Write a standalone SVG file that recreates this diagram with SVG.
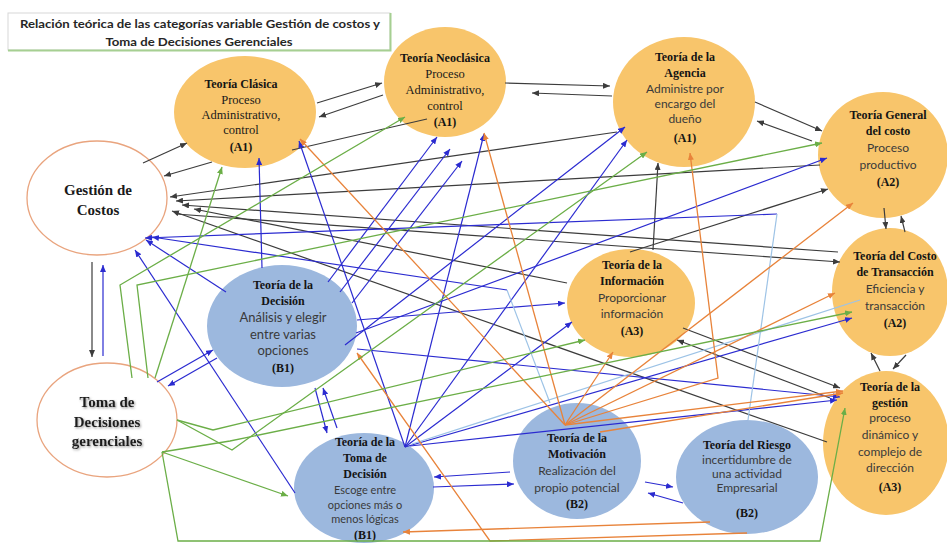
<svg xmlns="http://www.w3.org/2000/svg" width="947" height="543" viewBox="0 0 947 543">
<style>
.ttl{font-family:"Lato","Liberation Sans",sans-serif;font-weight:bold;font-size:11px;fill:#262626;text-anchor:middle}
.t{font-family:"Liberation Serif","Times New Roman",serif;font-weight:bold;font-size:12px;fill:#141414;text-anchor:middle}
.s{font-family:"Liberation Serif","Times New Roman",serif;font-size:12.5px;fill:#1a1a1a;text-anchor:middle}
.d{font-family:"Lato","Liberation Sans",sans-serif;font-size:12px;fill:#3a3a3a;text-anchor:middle}
.big{font-family:"Liberation Serif","Times New Roman",serif;font-weight:bold;font-size:15px;fill:#1a1a1a;text-anchor:middle}
.or{fill:#F8C56B}
.bl{fill:#9CB8DE}
.wh{fill:#ffffff;stroke:#E9A47E;stroke-width:1.3}
.k{stroke:#3c3c3c;stroke-width:1.2;fill:none;marker-end:url(#ak)}
.kn{stroke:#3c3c3c;stroke-width:1.2;fill:none}
.b{stroke:#2b2bd0;stroke-width:1.2;fill:none;marker-end:url(#ab)}
.o{stroke:#E8833A;stroke-width:1.3;fill:none;marker-end:url(#ao)}
.g{stroke:#6BAE47;stroke-width:1.3;fill:none;marker-end:url(#ag)}
.lb{stroke:#9DC3E6;stroke-width:1.2;fill:none}
</style>
<defs>
<marker id="ak" markerUnits="userSpaceOnUse" markerWidth="8" markerHeight="6" refX="7" refY="3" orient="auto"><path d="M0,0 L7,3 L0,6 z" fill="#3c3c3c"/></marker>
<marker id="ab" markerUnits="userSpaceOnUse" markerWidth="8" markerHeight="6" refX="7" refY="3" orient="auto"><path d="M0,0 L7,3 L0,6 z" fill="#2b2bd0"/></marker>
<marker id="ao" markerUnits="userSpaceOnUse" markerWidth="8" markerHeight="6" refX="7" refY="3" orient="auto"><path d="M0,0 L7,3 L0,6 z" fill="#E8833A"/></marker>
<marker id="ag" markerUnits="userSpaceOnUse" markerWidth="8" markerHeight="6" refX="7" refY="3" orient="auto"><path d="M0,0 L7,3 L0,6 z" fill="#6BAE47"/></marker>
<filter id="sh" x="-10%" y="-20%" width="120%" height="140%"><feDropShadow dx="1" dy="1.2" stdDeviation="0.9" flood-color="#777" flood-opacity="0.8"/></filter>
</defs>
<rect width="947" height="543" fill="#ffffff"/>

<!-- heading box -->
<g id="heading">
<rect x="8" y="13" width="382" height="37" fill="#ffffff" stroke="#d8d8d8" stroke-width="1"/>
<path d="M8,50.5 H390.5 V13" fill="none" stroke="#A6CF92" stroke-width="2"/>
<text class="ttl" x="200" y="28" textLength="360" lengthAdjust="spacingAndGlyphs">Relación teórica de las categorías variable Gestión de costos y</text>
<text class="ttl" x="199" y="46" textLength="187" lengthAdjust="spacingAndGlyphs">Toma de Decisiones Gerenciales</text>
</g>

<!-- category nodes -->
<g id="n-gestion-costos"><ellipse class="wh" cx="97" cy="198" rx="70" ry="57"/>
<text class="big" x="98" y="195">Gestión de</text><text class="big" x="98" y="215">Costos</text></g>

<g id="n-toma"><ellipse class="wh" cx="107" cy="420" rx="70" ry="57"/>
<g filter="url(#sh)"><text class="big" x="107" y="407">Toma de</text><text class="big" x="107" y="427">Decisiones</text><text class="big" x="107" y="446">gerenciales</text></g></g>

<g id="n-clasica"><ellipse class="or" cx="245" cy="112" rx="71" ry="56"/>
<text class="t" x="241" y="88">Teoría Clásica</text><text class="s" x="241" y="104">Proceso</text><text class="s" x="241" y="119">Administrativo,</text><text class="s" x="241" y="134">control</text><text class="t" x="241" y="151">(A1)</text></g>

<g id="n-neoclasica"><ellipse class="or" cx="445" cy="82" rx="61" ry="55"/>
<text class="t" x="445" y="62">Teoría Neoclásica</text><text class="s" x="445" y="78">Proceso</text><text class="s" x="445" y="94">Administrativo,</text><text class="s" x="445" y="110">control</text><text class="t" x="445" y="126">(A1)</text></g>

<g id="n-agencia"><ellipse class="or" cx="684" cy="102" rx="71" ry="65"/>
<text class="t" x="685" y="61">Teoría de la</text><text class="t" x="685" y="77">Agencia</text><text class="d" x="685" y="93">Administre por</text><text class="d" x="685" y="108">encargo del</text><text class="d" x="685" y="123">dueño</text><text class="t" x="685" y="142">(A1)</text></g>

<g id="n-general"><ellipse class="or" cx="883" cy="155" rx="65" ry="63"/>
<text class="t" x="888" y="119">Teoría General</text><text class="t" x="888" y="135">del costo</text><text class="d" x="888" y="152">Proceso</text><text class="d" x="888" y="169">productivo</text><text class="t" x="888" y="186">(A2)</text></g>

<g id="n-transaccion"><ellipse class="or" cx="890" cy="292" rx="58" ry="64"/>
<text class="t" x="895" y="260">Teoría del Costo</text><text class="t" x="895" y="276">de Transacción</text><text class="d" x="895" y="293">Eficiencia y</text><text class="d" x="895" y="310">transacción</text><text class="t" x="895" y="327">(A2)</text></g>

<g id="n-gestion"><ellipse class="or" cx="886" cy="443" rx="63" ry="72"/>
<text class="t" x="890" y="391">Teoría de la</text><text class="t" x="890" y="407">gestión</text><text class="d" x="890" y="422">proceso</text><text class="d" x="890" y="439">dinámico y</text><text class="d" x="890" y="456">complejo de</text><text class="d" x="890" y="472">dirección</text><text class="t" x="890" y="491">(A3)</text></g>

<g id="n-informacion"><ellipse class="or" cx="631" cy="303" rx="64" ry="54"/>
<text class="t" x="632" y="269">Teoría de la</text><text class="t" x="632" y="285">Información</text><text class="d" x="632" y="302">Proporcionar</text><text class="d" x="632" y="318">información</text><text class="t" x="632" y="335">(A3)</text></g>

<g id="n-decision"><ellipse class="bl" cx="282" cy="326" rx="75" ry="61"/>
<text class="t" x="283" y="289">Teoría de la</text><text class="t" x="283" y="305">Decisión</text><text class="d" x="283" y="322" style="font-size:13px">Análisis y elegir</text><text class="d" x="283" y="339" style="font-size:13px">entre varias</text><text class="d" x="283" y="355" style="font-size:13px">opciones</text><text class="t" x="283" y="372">(B1)</text></g>

<g id="n-toma-decision"><ellipse class="bl" cx="364" cy="488" rx="70" ry="55"/>
<text class="t" x="365" y="446">Teoría de la</text><text class="t" x="365" y="462">Toma de</text><text class="t" x="365" y="478">Decisión</text><text class="d" x="365" y="494" style="font-size:11px">Escoge entre</text><text class="d" x="365" y="509" style="font-size:11px">opciones más o</text><text class="d" x="365" y="523" style="font-size:11px">menos lógicas</text><text class="t" x="365" y="539">(B1)</text></g>

<g id="n-motivacion"><ellipse class="bl" cx="577" cy="461" rx="64" ry="58"/>
<text class="t" x="577" y="442">Teoría de la</text><text class="t" x="577" y="458">Motivación</text><text class="d" x="577" y="475">Realización del</text><text class="d" x="577" y="492">propio potencial</text><text class="t" x="577" y="508">(B2)</text></g>

<g id="n-riesgo"><ellipse class="bl" cx="747" cy="477" rx="71" ry="57"/>
<text class="t" x="747" y="449">Teoría del Riesgo</text><text class="d" x="747" y="464">incertidumbre de</text><text class="d" x="747" y="478">una actividad</text><text class="d" x="747" y="492">Empresarial</text><text class="t" x="747" y="517">(B2)</text></g>

<!-- connectors -->
<g id="connectors">
<!-- black -->
<path class="k" d="M143,163 L187,143"/>
<path class="k" d="M383,95 L319,117"/>
<path class="k" d="M317,103 L382,83"/>
<path class="k" d="M505,83 L610,86"/>
<path class="k" d="M612,96 L532,93"/>
<path class="k" d="M755,102 L822,131"/>
<path class="k" d="M812,141 L757,121"/>
<path class="k" d="M884,208 L886,229"/>
<path class="k" d="M905,232 L901,216"/>
<path class="k" d="M880,371 L871,353"/>
<path class="k" d="M906,355 L893,369"/>
<path class="k" d="M92,262 L92,357"/>
<path class="k" d="M653,250 L658,163"/>
<path class="k" d="M630,252 L828,189"/>
<path class="k" d="M683,328 L840,388"/>
<path class="k" d="M830,398 L677,340"/>
<path class="k" d="M176,214 L840,262"/>
<!-- black lines ending at Gestión de Costos (the first one runs behind Teoría Clásica) -->
<path class="kn" d="M427,119 L292,150"/>
<path class="k" d="M212,162 L164,176"/>
<path class="k" d="M617,132 L170,197"/>
<path class="k" d="M820,165 L176,201"/>
<path class="k" d="M838,252 L182,205"/>
<path class="k" d="M567,283 L194,209"/>
<path class="k" d="M827,442 L172,211"/>
<!-- blue -->
<path class="b" d="M262,268 L259,158"/>
<path class="b" d="M226,292 L146,240"/>
<path class="b" d="M295,493 L135,250"/>
<path class="b" d="M103,356 L103,265"/>
<path class="b" d="M157,382 L213,350"/>
<path class="b" d="M217,358 L168,386"/>
<path class="b" d="M315,388 L327,433"/>
<path class="b" d="M337,428 L323,388"/>
<path class="b" d="M510,472 L434,477"/>
<path class="b" d="M433,487 L514,484"/>
<path class="b" d="M645,482 L673,487"/>
<path class="b" d="M683,503 L648,493"/>
<path class="b" d="M328,282 L437,137"/>
<path class="b" d="M340,292 L450,149"/>
<path class="b" d="M352,303 L462,161"/>
<path class="b" d="M405,447 L484,134"/>
<path class="b" d="M405,447 L299,141"/>
<path class="b" d="M345,345 L625,127"/>
<path class="b" d="M405,447 L627,140"/>
<path class="b" d="M356,333 L827,158"/>
<path class="b" d="M357,320 L565,303"/>
<path class="b" d="M405,447 L572,322"/>
<path class="b" d="M405,447 L852,318"/>
<path class="b" d="M357,349 L840,397"/>
<path class="b" d="M410,446 L837,400"/>
<path class="b" d="M507,290 L152,237"/>
<path class="b" d="M777,214 L145,238"/>
<!-- light blue -->
<path class="lb" d="M550,403 L507,290"/>
<path class="lb" d="M748,420 L777,214"/>
<path class="lb" d="M412,444 L860,300"/>
<!-- orange -->
<path class="o" d="M565,425 L300,139"/>
<path class="o" d="M565,425 L484,133"/>
<path class="o" d="M565,425 L718,378 L690,153"/>
<path class="o" d="M565,425 L853,203"/>
<path class="o" d="M565,425 L835,293"/>
<path class="o" d="M565,425 L613,352"/>
<path class="o" d="M565,425 L843,391"/>
<path class="o" d="M600,432 L843,393"/>
<path class="o" d="M710,522 L403,532"/>
<path class="o" d="M747,533 L490,541 L357,353"/>
<!-- green -->
<path class="g" d="M155,378 L222,167"/>
<path class="g" d="M132,378 L120,285 L405,117"/>
<path class="g" d="M148,378 L137,285 L822,143"/>
<path class="g" d="M177,420 L213,430 L585,340"/>
<path class="g" d="M177,420 L232,450 L647,152"/>
<path class="g" d="M162,452 L230,441 L852,312"/>
<path class="g" d="M162,452 L288,496"/>
<path class="g" d="M162,452 L178,541 L820,541 L845,408"/>
</g>
</svg>
